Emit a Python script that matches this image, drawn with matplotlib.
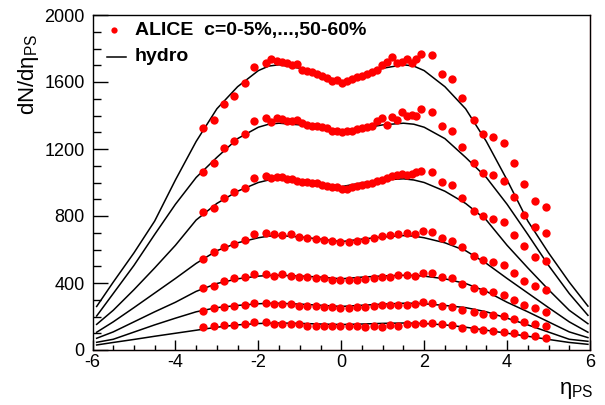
import matplotlib
matplotlib.use("Agg")
import matplotlib.pyplot as plt
from matplotlib.ticker import MultipleLocator

plt.rcParams["font.family"] = ["Liberation Sans", "DejaVu Sans"]
plt.rcParams["mathtext.fontset"] = "custom"
plt.rcParams["mathtext.rm"] = "Liberation Sans"
plt.rcParams["mathtext.it"] = "Liberation Sans"
plt.rcParams["mathtext.bf"] = "Liberation Sans:bold"
plt.rcParams["axes.unicode_minus"] = False

# --- donnees ALICE ---
CENTRALITES = ["0-5%", "5-10%", "10-20%", "20-30%", "30-40%", "40-50%", "50-60%"]

ETA_FMD_GAUCHE = [-3.34, -3.08, -2.84, -2.58, -2.33, -2.10]
ETA_FMD_DROITE = [2.19, 2.43, 2.67, 2.92, 3.19, 3.42, 3.67, 3.93, 4.16, 4.42, 4.68, 4.94]
ETA_CENTRE_DENSE = [-1.82, -1.69, -1.55, -1.43, -1.31, -1.19, -1.06, -0.95, -0.83, -0.71,
                    -0.59, -0.47, -0.35, -0.23, -0.11, 0.02, 0.14, 0.26, 0.38, 0.50,
                    0.62, 0.74, 0.86, 0.98, 1.10, 1.22, 1.34, 1.46, 1.58, 1.70, 1.81, 1.92]
ETA_CENTRE_LACHE = [-1.82, -1.62, -1.42, -1.22, -1.02, -0.82, -0.62, -0.42, -0.22, -0.02,
                    0.18, 0.38, 0.58, 0.78, 0.98, 1.18, 1.38, 1.58, 1.78, 1.97]

DN_0_5 = [1323, 1373, 1469, 1516, 1596, 1688,
          1712, 1735, 1725, 1721, 1712, 1701, 1707, 1672, 1666, 1662,
          1648, 1636, 1622, 1608, 1610, 1596, 1608, 1618, 1628, 1636,
          1648, 1660, 1672, 1701, 1721, 1747, 1712, 1721, 1735, 1712, 1735, 1767,
          1759, 1646, 1620, 1506, 1373, 1290, 1273, 1234, 1115, 991, 891, 852]
DN_5_10 = [1061, 1115, 1204, 1249, 1288, 1369,
           1383, 1363, 1383, 1377, 1367, 1367, 1373, 1357, 1343, 1339,
           1339, 1333, 1323, 1309, 1305, 1303, 1309, 1309, 1317, 1323,
           1329, 1337, 1365, 1385, 1343, 1393, 1373, 1423, 1397, 1403, 1397, 1439,
           1419, 1339, 1306, 1214, 1115, 1055, 1045, 1007, 915, 806, 736, 700]
DN_10_20 = [826, 846, 906, 945, 966, 1025,
            1041, 1029, 1031, 1035, 1021, 1019, 1010, 1001, 1001, 998,
            995, 985, 978, 971, 971, 963, 961, 971, 979, 985,
            993, 999, 1007, 1015, 1029, 1041, 1045, 1049, 1045, 1051, 1060, 1071,
            1064, 1005, 987, 909, 832, 802, 780, 762, 687, 621, 557, 533]
DN_20_30 = [543, 587, 617, 633, 657, 693,
            700, 690, 687, 690, 677, 667, 665, 657, 649, 647,
            647, 651, 657, 670, 682, 684, 693, 700, 695, 710,
            706, 667, 651, 613, 561, 537, 527, 507, 458, 412, 382, 358]
DN_30_40 = [368, 382, 414, 428, 434, 454,
            454, 442, 452, 442, 434, 434, 428, 428, 416, 420,
            418, 418, 424, 428, 436, 438, 448, 448, 444, 462,
            461, 438, 432, 392, 368, 352, 344, 328, 299, 269, 249, 229]
DN_40_50 = [233, 249, 255, 263, 269, 279,
            279, 273, 273, 273, 265, 263, 263, 259, 257, 253,
            251, 255, 259, 263, 267, 269, 269, 269, 275, 288,
            279, 265, 255, 239, 225, 215, 209, 203, 185, 169, 153, 143]
DN_50_60 = [135, 143, 149, 149, 155, 165,
            165, 153, 153, 153, 153, 145, 145, 145, 145, 145,
            143, 143, 139, 143, 139, 149, 145, 153, 155, 162,
            159, 153, 149, 133, 125, 119, 113, 109, 99, 90, 84, 73]

# --- courbes hydro ---
ETA_HYDRO = [-5.9, -5.5, -5.0, -4.5, -4.0, -3.5, -3.0, -2.5, -2.0, -1.75, -1.5, -1.0, -0.5, 0.0,
             0.5, 1.0, 1.5, 1.75, 2.0, 2.5, 3.0, 3.5, 4.0, 4.5, 5.0, 5.5, 5.95]
HYDRO_0_5 = [260, 405, 580, 770, 1015, 1245, 1440, 1572, 1668, 1695, 1703, 1682, 1642, 1603,
             1642, 1682, 1703, 1695, 1668, 1572, 1440, 1245, 1015, 770, 580, 405, 262]
HYDRO_5_10 = [203, 337, 505, 690, 870, 1030, 1150, 1262, 1330, 1348, 1354, 1344, 1322, 1300,
              1322, 1344, 1354, 1348, 1330, 1262, 1150, 1030, 870, 690, 505, 337, 207]
HYDRO_10_20 = [153, 237, 360, 490, 625, 776, 875, 948, 1000, 1015, 1022, 1015, 998, 975,
               998, 1015, 1022, 1015, 1000, 948, 875, 776, 625, 490, 360, 237, 157]
HYDRO_20_30 = [106, 168, 253, 340, 427, 517, 593, 640, 670, 680, 683, 675, 662, 647,
               662, 675, 683, 680, 670, 640, 593, 517, 427, 340, 253, 168, 106]
HYDRO_30_40 = [70, 108, 168, 228, 285, 350, 397, 425, 441, 445, 446, 442, 435, 425,
               435, 442, 446, 445, 441, 425, 397, 350, 285, 228, 168, 108, 74]
HYDRO_40_50 = [46, 64, 107, 150, 190, 228, 253, 266, 276, 279, 279, 274, 267, 260,
               267, 274, 279, 279, 276, 266, 253, 228, 190, 150, 107, 64, 52]
HYDRO_50_60 = [30, 45, 63, 82, 100, 118, 136, 150, 158, 160, 161, 159, 155, 152,
               155, 159, 161, 160, 158, 150, 136, 118, 100, 82, 63, 45, 34]

ETA_DENSE = ETA_FMD_GAUCHE + ETA_CENTRE_DENSE + ETA_FMD_DROITE
ETA_LACHE = ETA_FMD_GAUCHE + ETA_CENTRE_LACHE + ETA_FMD_DROITE

SERIES = [
    (ETA_DENSE, DN_0_5, HYDRO_0_5),
    (ETA_DENSE, DN_5_10, HYDRO_5_10),
    (ETA_DENSE, DN_10_20, HYDRO_10_20),
    (ETA_LACHE, DN_20_30, HYDRO_20_30),
    (ETA_LACHE, DN_30_40, HYDRO_30_40),
    (ETA_LACHE, DN_40_50, HYDRO_40_50),
    (ETA_LACHE, DN_50_60, HYDRO_50_60),
]

fig = plt.figure(figsize=(6.05, 4.05), dpi=100)
# cadre calque sur les pixels de la figure d'origine
ax = fig.add_axes([92.5 / 605, 55 / 405, 497.5 / 605, 335 / 405])

for eta, dn, hydro in SERIES:
    ax.plot(ETA_HYDRO, hydro, color="black", linewidth=1.1, zorder=2)
    ax.plot(eta, dn, linestyle="none", marker="o", markersize=6.0,
            color="#ff0000", markeredgewidth=0, zorder=3)

ax.set_xlim(-6, 6)
ax.set_ylim(0, 2000)

ax.xaxis.set_major_locator(MultipleLocator(2))
ax.xaxis.set_minor_locator(MultipleLocator(0.5))
ax.yaxis.set_major_locator(MultipleLocator(400))
ax.yaxis.set_minor_locator(MultipleLocator(100))

ax.tick_params(axis="both", which="both", direction="in", top=False, right=False,
               labelsize=13, width=1.0)
ax.tick_params(axis="y", which="major", length=10.8, pad=5.5)
ax.tick_params(axis="y", which="minor", length=5.4)
ax.tick_params(axis="x", which="major", length=7.2, pad=3)
ax.tick_params(axis="x", which="minor", length=3.6)
for s in ax.spines.values():
    s.set_linewidth(1.0)

# trait rouge le long du bas et du bord droit (contour de l'histogramme cadre)
ax.axhline(0, color="#ff0000", linewidth=0.8, zorder=1, clip_on=False)
ax.axvline(6, color="#ff0000", linewidth=0.8, zorder=1, clip_on=False)

# titres d'axes
fig.text(16 / 605, 1 - 33 / 405, "dN/dη$_{\\rm PS}$", rotation=90,
         ha="left", va="top", fontsize=16)
fig.text(594 / 605, 1 - 401 / 405, "η$_{\\rm PS}$", ha="right", va="bottom", fontsize=16)

# legende
ax.plot([0.0438], [0.955], marker="o", markersize=4.5, color="#ff0000",
        markeredgewidth=0, transform=ax.transAxes, clip_on=False)
ax.text(0.0854, 0.955, "ALICE  c=0-5%,...,50-60%", transform=ax.transAxes,
        ha="left", va="center", fontsize=14, fontweight="bold")
ax.plot([0.0285, 0.0667], [0.8755, 0.8755], color="black", linewidth=1.1,
        transform=ax.transAxes, clip_on=False)
ax.text(0.0854, 0.8755, "hydro", transform=ax.transAxes,
        ha="left", va="center", fontsize=14, fontweight="bold")

fig.savefig("out.png", dpi=100)
